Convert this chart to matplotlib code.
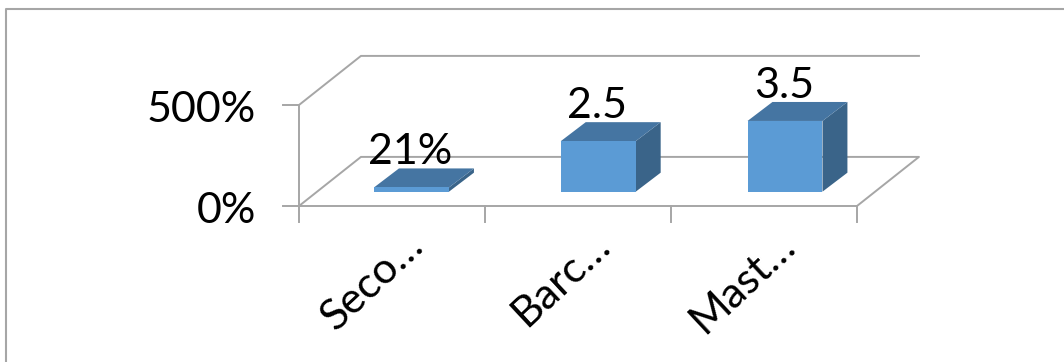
import matplotlib
matplotlib.use("Agg")
import matplotlib.pyplot as plt
from matplotlib.patches import Polygon, Rectangle

categories = ["Seco…", "Barc…", "Mast…"]
values = [0.21, 2.5, 3.5]
value_labels = ["21%", "2.5", "3.5"]
y_ticks = [0, 5]
y_tick_labels = ["0%", "500%"]

W, H = 1064, 362
plt.rcParams['font.family'] = ['Lato', 'DejaVu Sans']

fig = plt.figure(figsize=(W / 100, H / 100), dpi=100)

# outer frame, only top and left are visible in the crop
bg = fig.add_axes([0, 0, 1, 1])
bg.set_xlim(0, W)
bg.set_ylim(H, 0)
bg.axis("off")
bg.plot([6, 6, W], [H, 9, 9], color="#a6a6a6", lw=1.5)

# x=0..3 is one unit per category, y is the value axis (5 = 500%)
ax = fig.add_axes([299 / W, (H - 206) / H, 558 / W, 101 / H])
ax.set_xlim(0, 3)
ax.set_ylim(0, 5)
ax.axis("off")

grid = "#a6a6a6"
lw = 1.4
wall_dx, wall_dy = 0.333, 2.43
bar_dx, bar_dy = 0.134, 0.94
base_dx, base_dy = 0.105, 0.71
bar_w = 0.403
bar_step = 1.004

# walls, floor and ticks
ax.plot([0, wall_dx, 3 + wall_dx, 3, 0], [0, wall_dy, wall_dy, 0, 0], color=grid, lw=lw, clip_on=False)
ax.plot([0, wall_dx, 3 + wall_dx], [5, 5 + wall_dy, 5 + wall_dy], color=grid, lw=lw, clip_on=False)
ax.plot([0, 0], [0, 5], color=grid, lw=lw, clip_on=False)
for t in y_ticks:
    ax.plot([-0.086, 0], [t, t], color=grid, lw=lw, clip_on=False)
for i in range(len(categories) + 1):
    ax.plot([i, i], [0, -0.77], color=grid, lw=lw, clip_on=False)

for t, lab in zip(y_ticks, y_tick_labels):
    ax.text(-0.23, t - 0.84, lab, ha="right", va="baseline", fontsize=31, color="black", clip_on=False)

# bars, drawn as oblique boxes
for i, (v, lab, cat) in enumerate(zip(values, value_labels, categories)):
    x0 = i * bar_step + 0.5 - bar_w / 2 + base_dx
    x1 = x0 + bar_w
    y0 = base_dy
    y1 = base_dy + v
    ax.add_patch(Polygon([(x1, y0), (x1 + bar_dx, y0 + bar_dy), (x1 + bar_dx, y1 + bar_dy), (x1, y1)],
                         fc="#3a6489", ec="none", clip_on=False, zorder=3))
    ax.add_patch(Polygon([(x0, y1), (x1, y1), (x1 + bar_dx, y1 + bar_dy), (x0 + bar_dx, y1 + bar_dy)],
                         fc="#4575a2", ec="none", clip_on=False, zorder=3))
    ax.add_patch(Rectangle((x0, y0), bar_w, v, fc="#5b9bd5", ec="none", clip_on=False, zorder=4))
    ax.text((x0 + x1) / 2 - 0.006, y1 + bar_dy + 0.2, lab, ha="center", va="baseline",
            fontsize=31, color="black", clip_on=False, zorder=5)
    ax.text(i + 0.68, -2.08, cat, rotation=43, rotation_mode="anchor", ha="right", va="baseline",
            fontsize=31, color="black", clip_on=False)

fig.savefig("out.png", dpi=100, facecolor="white")
